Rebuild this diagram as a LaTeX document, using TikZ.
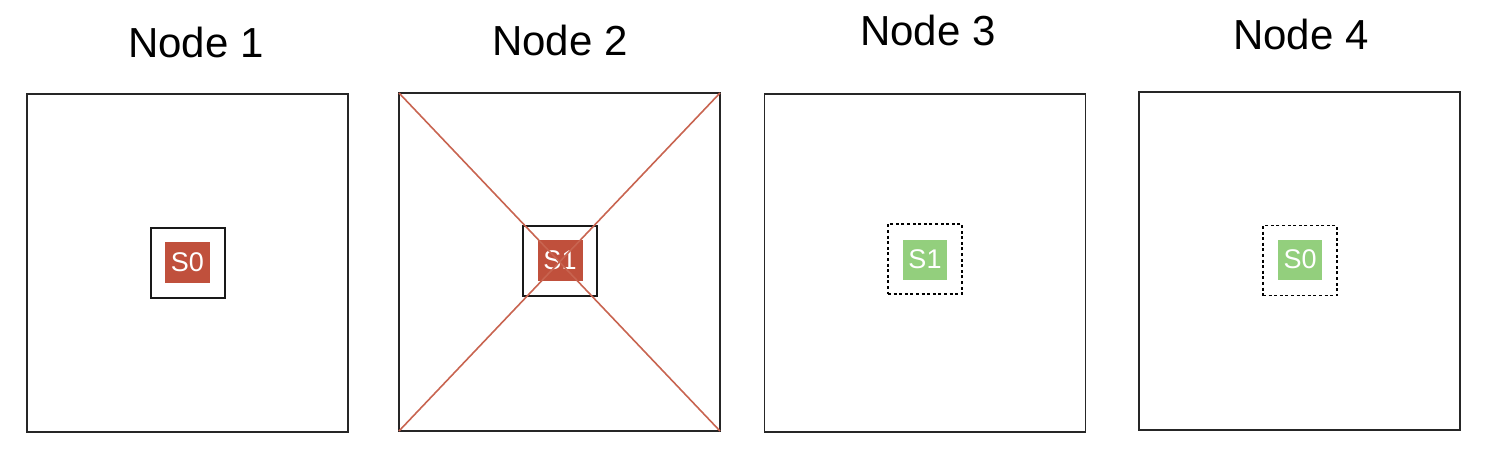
\documentclass[tikz,border=0pt]{standalone}
\usepackage{fontspec}
\setmainfont{Liberation Sans}
\usetikzlibrary{positioning}

\definecolor{shardred}{RGB}{192,80,60}
\definecolor{shardgreen}{RGB}{147,207,125}
\definecolor{linkred}{RGB}{200,100,80}

\begin{document}
\begin{tikzpicture}[x=1pt, y=-1pt, inner sep=0pt, outer sep=0pt,
	machine/.style={draw=black!85, line width=1.8pt, minimum width=321pt, minimum height=338pt},
	holder/.style={draw=black!90, line width=2pt, minimum width=74pt, minimum height=70pt},
	ghost/.style={draw=black, line width=1.6pt, dash pattern=on 3pt off 2.6pt, minimum width=74pt, minimum height=70pt},
	primary/.style={fill=shardred, text=white, minimum width=45pt, minimum height=41pt, font=\fontsize{27}{30}\selectfont},
	replica/.style={fill=shardgreen, text=white, minimum width=44pt, minimum height=40pt, font=\fontsize{27}{30}\selectfont},
	title/.style={anchor=base, font=\fontsize{42}{50}\selectfont}]
	\useasboundingbox (0,0) rectangle (1504,458);

	\node[title] (t1) at (196,57) {Node 1};
	\node[title] (t2) at (560,55) {Node 2};
	\node[title] (t3) at (928,45) {Node 3};
	\node[title] (t4) at (1301,49) {Node 4};

	\node[machine] (m1) at (187.5,263) {};
	\node[machine] (m2) at (559.5,262) {};
	\node[machine] (m3) at (925,263) {};
	\node[machine] (m4) at (1299.5,261) {};

	\node[holder] (h1) at (187.5,262.5) {};
	\node[holder] (h2) at (560,261) {};
	\node[ghost] (h3) at (925,259) {};
	\node[ghost] (h4) at (1300,260.5) {};

	\node[primary] (s1) at (187.5,262.5) {S0};
	\node[primary] (s2) at (560,260.5) {S1};
	\node[replica] (s3) at (925,259.5) {S1};
	\node[replica] (s4) at (1300,259.5) {S0};

	\draw[linkred, line width=1.6pt] (m2.north west) -- (m2.south east);
	\draw[linkred, line width=1.6pt] (m2.north east) -- (m2.south west);
\end{tikzpicture}
\end{document}
